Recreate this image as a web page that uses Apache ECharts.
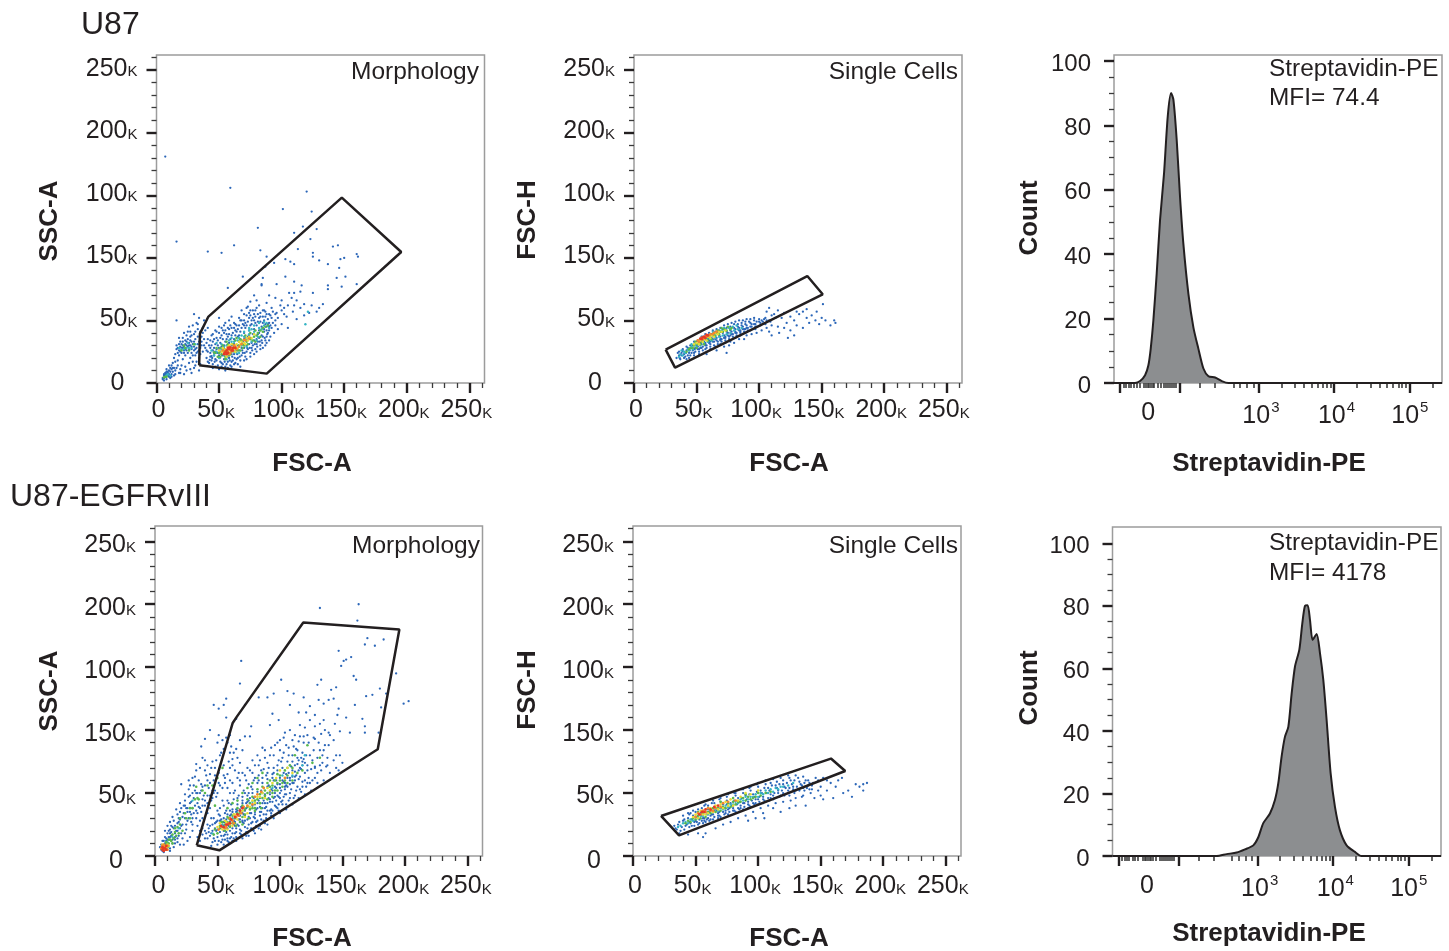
<!DOCTYPE html>
<html><head><meta charset="utf-8">
<style>html,body{margin:0;padding:0;background:#fff}#c{width:1449px;height:951px}</style>
<script src="https://cdn.jsdelivr.net/npm/echarts@6/dist/echarts.min.js"></script>
</head><body><div id="c"></div>
<script>
// ---------- tick labels ----------
const scatterXTicks=[0,50,100,150,200,250];
const scatterXLabels=["0","50K","100K","150K","200K","250K"];
const scatterYTicks=[0,50,100,150,200,250];
const scatterYLabels=["0","50K","150K","100K","200K","250K"];
const scatterMinorTicks=[10,20,30,40,60,70,80,90,110,120,130,140,160,170,180,190,210,220,230,240,260];
const histYTicks=[0,20,40,60,80,100];
const histYMinorTicks=[5,10,15,25,30,35,45,50,55,65,70,75,85,90,95];
const histXLabelTicks=[1.54,3.03,4.03,5];
const histXLabels=["0","3","4","5"];
const histXMajorTicks=[1.166,1.96,3,4,5];
const histXMinorTicks=[1.21,1.245,1.276,1.307,1.351,1.384,1.421,1.483,1.506,1.527,1.55,1.572,1.594,1.616,1.66,1.705,1.74,1.766,1.792,1.819,1.845,1.871,1.898,2.225,2.424,2.666,2.755,2.844,2.93,3.3,3.48,3.6,3.7,3.78,3.85,3.9,3.95,4.3,4.48,4.6,4.7,4.78,4.85,4.9,4.95,5.3];

// ---------- histograms ----------
const u87HistX=[1.086,1.364,1.431,1.497,1.541,1.572,1.607,1.651,1.695,1.748,1.797,1.841,1.872,1.916,1.96,2.004,2.071,2.137,2.203,2.269,2.336,2.424,2.512,2.6,5.426];
const u87HistCount=[0,0,0.6,2.4,5.5,10.7,19.5,34,50.6,65.1,82.8,90.1,88,75.4,57.7,43.2,27.6,17.2,10.6,4.5,2.1,1.7,0.6,0,0];
const egfrHistX=[1.086,2.462,2.594,2.726,2.836,2.946,3.012,3.078,3.166,3.232,3.276,3.32,3.364,3.409,3.453,3.497,3.554,3.594,3.629,3.664,3.695,3.73,3.783,3.827,3.871,3.915,3.968,4.025,4.091,4.179,4.289,4.377,5.426];
const egfrHistCount=[0,0,0.6,1.1,2.1,3.4,6,10.5,13.6,17.9,23.2,31.8,38.1,41.3,52,60.6,65.9,74.5,80,80.2,75.5,69.1,71,64.9,56.3,43.5,26.4,15.7,8.2,3.4,1.3,0,0];

// ---------- gates ----------
const u87MorphGate=[[34.1,14.1],[34.7,39.5],[41.3,52.8],[148.1,148.2],[195.6,104.7],[88.1,7.5],[34.1,14.1]];
const u87SingleGate=[[25.3,26.7],[32.8,12.3],[150.8,70.9],[138.5,85.5],[25.3,26.7]];
const egfrMorphGate=[[33.4,8.5],[51.5,4.5],[178.3,84.8],[195.6,179.9],[118.7,185.5],[65.4,110.5],[62.2,105.7],[33.4,8.5]];
const egfrSingleGate=[[22.4,31.8],[36.8,16.4],[169.6,67.5],[158.2,77.4],[22.4,31.8]];

// ---------- U87 morphology events, by density colour ----------
const u87MorphBlue=[[7,181],[59,156],[120,153],[101,139],[124,137],[81,124],[117,125],[110,120],[128,123],[62,110],[16,113],[41,105],[52,104],[83,106],[123,115],[88,101],[141,109],[145,110],[113,107],[125,104],[160,103],[161,101],[150,100],[147,99],[103,99],[94,96],[107,97],[110,95],[130,98],[137,95],[146,92],[87,93],[125,101],[69,85],[151,85],[144,84],[103,85],[85,84],[84,79],[96,79],[116,78],[137,78],[137,75],[148,77],[160,79],[57,76],[84,78],[110,81],
[90,70],[95,68],[100,66],[88,64],[106,72],[110,72],[115,73],[125,72],[108,68],[112,66],[118,63],[124,62],[130,60],[122,56],[128,57],[133,63],[102,60],[99,62],[92,60],[96,56],[104,53],[110,62],[86,58],[82,62],[80,66],[78,70],[75,65],[73,61],[90,55],[95,50],[100,47],[105,44],[112,51],[118,54],
[20,28],[22,26],[24,30],[26,27],[28,24],[30,29],[18,31],[21,33],[25,35],[28,33],[31,35],[33,31],[35,28],[37,25],[23,22],[27,20],[31,22],[34,20],[16,27],[19,25],[24,38],[27,41],[30,39],[33,43],[36,37],[29,46],[32,48],[37,44],[26,45],[34,52],[38,50],[30,55],[18,36],[22,40],[36,33],[38,30],[33,25],[14,20],[17,18],[12,14],[16,12],[20,14],[24,10],[28,8],[30,12],[26,16],[10,10],[13,9],[9,6],[18,8],[22,7],[35,15],[32,17],[16,50],
[5,3],[6,4],[7,5],[8,7],[7,8],[9,9],[10,5],[12,7],[14,6],[11,4],[6,2],[8,3],
[40,20],[43,24],[46,28],[42,30],[45,33],[48,36],[50,40],[44,38],[41,44],[47,42],[52,44],[55,48],[58,50],[50,52],[60,53],[63,47],[66,52],[70,55],[72,60],[68,58],[75,58],[78,55],[80,60],[85,58],[88,55],[92,52],[90,48],[86,50],[82,52],[78,50],[74,52],[70,50],[66,46],[62,44],[58,43],[54,40],[56,35],[60,38],[64,41],[68,44],[72,46],[76,47],[80,46],[84,45],[88,45],[86,41],[82,42],[78,43],[74,42],[70,40],[66,38],[62,35],[58,32],[54,30],[50,28],[46,22],[48,18],[52,16],[56,15],[60,17],[64,19],[68,22],[72,25],[76,28],[80,31],[84,34],[88,37],[82,36],[78,34],[74,31],[70,28],[66,26],[62,23],[58,20],[54,19],[50,22],[44,18],[42,16],[65,30],[69,33],[73,37],[77,39],[81,39],[85,48],[75,36],[90,42],[67,35],[71,36],[63,28],[59,27],[55,25],[51,25],[47,25],[60,30],[87,30],[92,44],[95,46],
[41,17],[43,21],[45,15],[47,19],[49,14],[51,17],[53,15],[55,13],[57,17],[59,14],[61,18],[63,16],[65,20],[67,18],[69,24],[71,21],[73,27],[75,24],[77,30],[79,27],[81,33],[83,30],[85,37],[87,34],[89,40],[91,37],[41,25],[43,28],[45,26],[47,31],[49,30],[51,32],[53,35],[55,33],[57,37],[59,35],[61,40],[63,38],[65,43],[67,41],[69,47],[71,44],[73,49],[75,46],[77,52],[79,48],[81,55],[83,49],[85,53],[87,47],[89,51],[91,46],[44,21.5],[46,24],[48,27],[50,26],[52,29],[54,27.5],[56,24.5],[58,29.5],[60,23],[62,31],[64,26],[66,33],[68,28],[70,35],[72,30],[74,38],[76,32],[78,39],[80,35],[82,40],[84,38],[86,43],[88,42],[90,45],[42.5,18.5],[44.5,20],[46.5,17],[48.5,24],[50.5,20],[52.5,22],[54.5,17],[56.5,21],[58.5,18],[60.5,21],[62.5,20],[64.5,23],[66.5,21],[68.5,26],[70.5,24],[72.5,28],[74.5,28],[76.5,26],[78.5,31],[80.5,29],[82.5,33],[84.5,32],[86.5,36],[88.5,39],[51,36],[55,42],[59,46],[63,42],[67,50],[71,48],[75,54],[79,58],[83,56],[87,53],
[19,29],[21,28],[23,31],[25,29],[27,30],[29,31],[22,24],[26,32],[30,26],[32,28],[34,33],[24,26],[28,27],[20,31],[17,24],[15,23],[35,36],[31,41],[27,37],[23,34],
[6,6],[7,6.5],[8,9],[9,8],[10,7],[11,9],[12,11],[13,12],[15,10],[17,14],[19,11],[5,4],[6,7],
[16,30],[17,28],[18,26],[19,33],[20,24],[21,30],[22,29],[23,27],[24,33],[25,24],[26,30],[27,34],[28,29],[29,22],[30,33],[31,27],[32,24],[33,37],[34,26],[35,23],[36,30],[37,40],[38,35],[39,28],[40,32],[39,42],[35,41],[33,47],[28,38],[25,41],[21,36],[18,22],[15,17],[13,16],[11,12],[14,12],[19,8],[23,13],[27,11],[31,14],[34,10],[10,14],[8,11],[15,7],[12,5],[21,19],[29,17],[40,26],[41,35],[43,34],[44,30],[45,39],[46,35],[48,41],[49,34],[50,45],[52,38],[53,42],[54,46],[56,39],[57,44],[58,39],[60,44],[62,48],[64,46],[65,37],[68,50],[70,46],[72,54],[74,56],[76,50],[77,58],[79,53],[81,49],[83,53],[85,44],[87,57],[89,47],[91,54],[93,48],[95,55],[97,52],[93,57],[45,12],[50,11],[55,10],[60,13],[65,15],[70,18],[75,21],[80,25],[85,28],[90,34],[94,40],[97,43],[72,19],[78,23],[83,27],[88,32],[67,13],[62,15],[57,12],[52,13],[47,13],[100,58],[105,62],[109,57],[115,60],[102,55]];
const u87MorphTeal=[[48,25],[52,27],[56,30],[60,33],[65,34],[70,37],[74,39],[78,41],[82,44],[86,46],[76,33],[68,30],[62,25],[58,24],[54,22],[24,28],[20,27],[8,6],[84,43],[72,35],[119,47],[121,57],
[46,22],[50,20],[54,29],[58,34],[62,33],[66,36],[70,41],[74,44],[78,46],[82,48],[86,49],[64,24],[72,29],[44,26],[52,31],[68,38],[76,43],[80,34],[22,27],[26,28],[9,7],[11,6],[28,28],[18,28],[31,31],[25,32],[60,36],[48,32],[74,42],[88,48],[90,44],[81,37],[66,24],[56,19]];
const u87MorphGreen=[[50,24],[54,26],[57,27],[60,25],[63,27],[66,30],[69,31],[72,33],[75,35],[78,37],[80,38],[58,22],[62,29],[68,34],[52,23],[7,5],[83,42],[23,28],[47,24],[55,21],
[46,24.5],[49,21],[51,28],[53,30],[55,19],[57,31],[59,23],[61,31],[63,34],[65,26],[67,35],[69,28],[71,38],[73,31],[75,40],[77,34],[79,42],[81,40],[85,44],[87,45],[48,28],[56,33],[64,36],[70,30],[6,4.5],[8,5],[22,30],[26,26],[30,31],[20,26],[85,41],[89,46],[83,37],[79,33],[51,21],[67,26]];
const u87MorphYellow=[[52,25],[55,23],[59,26],[62,27],[65,28],[67,31],[70,32],[73,34],[76,36],[57,29],[50,26],[53,28],[55,27],[58,30],[60,31],[63,25],[64,31],[66,33],[68,33],[71,31],[72,36],[74,37],[78,39],[56,21]];
const u87MorphOrange=[[54,24],[57,25],[60,27],[63,29],[66,29],[71,34],[58,23],[53,26],[55,25],[58,28.5],[59,24],[61,25.5],[62,30],[64,27],[68,31],[70,34.5],[74,35.5]];
const u87MorphRed=[[56,26],[58,27],[60,26],[54,23],[61,28],[56,23],[55,24.5],[57,24],[59,28.5],[61,26],[57,28],[63,28]];

// ---------- U87 single cells ----------
const u87SingleBlue=[[34,20],[36,22],[37,19],[38,24],[40,23],[41,21],[42,26],[44,24],[45,22],[46,28],[47,26],[48,24],[50,30],[51,27],[52,25],[53,32],[54,28],[55,26],[56,33],[57,30],[58,28],[59,35],[60,32],[61,29],[62,36],[63,33],[64,30],[65,37],[66,34],[67,31],[68,38],[69,35],[70,33],[71,40],[72,36],[73,34],[74,41],[75,38],[76,35],[77,42],[78,39],[79,37],[80,44],[81,41],[82,38],[83,45],[84,42],[85,40],[86,46],[87,43],[88,41],[89,47],[90,44],[91,42],[93,48],[94,45],[95,43],[96,50],[97,47],[98,45],[100,51],[101,48],[103,49],[105,52],[108,50],[110,54],
[58,23],[66,26],[72,29],[76,30],[80,32],[84,35],[90,38],[94,39],[98,40],[102,42],[106,44],[110,46],[88,35],[74,24],
[106,57],[108,60],[112,55],[115,58],[118,52],[120,56],[122,48],[125,53],[128,50],[130,46],[132,55],[135,57],[138,52],[140,48],[125,42],[115,45],[108,41],[120,44],[116,40],[145,50],[148,47],[150,52],[153,50],[157,46],[142,54],[135,44],[128,38],[123,36],[110,38],[151,63],[160,50],[161,48],[146,57],[138,59],[130,57],
[35,24],[36.5,20],[38,22],[39,25.5],[40,20],[41.5,24],[43,22],[43,28],[44.5,26],[46,24],[47,30],[48.5,27],[49,25],[50,33],[51,29],[52,27],[53,35],[54,31],[55,29],[56,36],[57,32],[58,30],[59,38],[60,34],[61,31],[62,39],[63,35],[64,33],[65,41],[66,36],[67,33],[68,42],[69,37],[70,35],[71,43],[72,38],[73,36],[74,44],[75,40],[76,37],[77,45],[78,41],[79,39],[80,47],[81,43],[82,40],[83,47],[84,44],[85,42],[86,48],[87,45],[88,43],[89,49],[90,46],[91,44],[92,49],[94,47],[96,47],[98,49],[100,49],[102,50],[104,51],[106,50],[57,27],[61,27],[65,29],[69,31],[73,32],[77,33],[81,36],[85,38],[89,40],[93,42],[97,43],[44,20],[48,22],[52,23],[42,19],
[36,25],[39,27],[42,29],[45,30],[48,33],[51,34],[54,37],[57,39],[60,40],[63,42],[66,43],[69,44],[72,46],[75,47],[78,48],[81,49],[84,50],[87,50],[90,51],[93,51],[96,52],[49,28],[53,28],[57,31],[61,33],[65,35],[69,34],[73,37],[77,38],[81,40],[85,41],[89,43],[93,45],[97,45],[101,46],[105,47],[109,49],[113,52]];
const u87SingleTeal=[[37,23],[40,25],[43,27],[46,29],[49,31],[52,33],[55,34],[58,36],[61,38],[64,39],[67,41],[70,42],[73,43],[76,44],[79,45],[82,46],[36,21],[39,22],[41,24],[44,26],[47,27],[50,29],[53,30],[56,32],[59,33],[62,34],[65,36],[68,37],[71,38],[74,39],[77,40],[80,42],[83,43],[86,44],[38,26],[46,31],[55,37],[63,41],[72,44]];
const u87SingleGreen=[[42,25],[45,28],[48,30],[51,31],[54,33],[57,35],[60,36],[63,38],[66,40],[69,41],[72,43],[75,45],[78,44],[44,27],[47,28],[50,28],[53,31],[56,31],[59,34],[62,35],[65,38],[68,39],[71,41],[74,42],[77,43],[49,33],[58,38],[67,42],[70,44]];
const u87SingleYellow=[[50,32],[53,34],[56,35],[59,37],[62,38],[65,40],[68,41],[52,31],[55,33],[58,34],[61,36],[64,37],[67,39],[70,41],[48,31],[73,42]];
const u87SingleOrange=[[52,33],[55,35],[58,37],[61,39],[64,40],[51,34],[54,36],[57,37],[60,38],[63,39],[66,41]];
const u87SingleRed=[[54,35],[57,36],[59,38],[53,35.5],[56,37],[58,38.5],[55,36.5]];

// ---------- U87-EGFRvIII morphology ----------
const egfrMorphBlue=[[132,197],[163,200],[162,187],[170,173],[183,172],[168,168],[176,167],[147,163],[157,158],[153,156],[151,155],[149,151],[69,155],[193,145],[159,143],[161,140],[133,140],[130,136],[101,140],[68,137],[180,133],[145,134],[141,132],[106,131],[111,129],[95,129],[83,126],[90,126],[169,127],[174,128],[185,129],[203,123],[199,121],[57,125],[47,120],[51,117],[55,120],[181,118],[147,117],[160,120],[72,120],[124,119],[119,126],[131,124],[135,121],[139,124],[143,125],[108,120],[115,114],[121,114],[94,113],[57,110],[65,109],[99,108],[153,110],[166,109],[135,108],[146,112],[168,103],[179,98],[168,98],[156,98],[148,99],[139,98],[145,80],[137,71],[147,68],[128,71],[44,100],[51,96],[40,93],[77,103],[92,104],[72,95],[76,95],[37,87],[33,73],[21,57],[27,60],
[35,60],[30,62],[38,55],[42,60],[44,65],[48,70],[46,75],[52,80],[55,85],[50,90],[58,90],[60,82],[42,72],[38,78],[33,68],[30,50],[27,47],[24,44],[21,38],[18,33],[15,28],[13,24],[26,35],[30,38],[34,42],[38,45],[42,48],[46,52],[37,35],[33,30],[29,27],[25,25],[20,22],[16,18],[12,15],[36,28],[40,40],[31,56],[27,53],[45,44],[49,47],[22,31],[19,27],[11,20],[44,38],[47,60],[51,66],[55,72],[40,68],[56,62],[60,70],[62,77],[65,85],[68,92],[54,92],[60,96],
[5,5],[6,8],[7,3],[8,10],[9,6],[10,13],[11,8],[12,4],[13,16],[14,10],[15,7],[16,13],[17,20],[18,11],[19,16],[20,9],[22,14],[24,18],[26,12],[8,15],[6,12],[10,18],[12,21],[4,7],[28,15],[30,20],[25,21],[23,9],
[36,12],[38,17],[40,20],[42,14],[44,24],[45,18],[46,11],[48,22],[49,27],[50,15],[51,33],[52,19],[53,24],[54,13],[55,30],[56,17],[57,36],[58,22],[59,11],[60,27],[61,41],[62,18],[63,33],[64,24],[65,15],[66,46],[67,29],[68,37],[69,20],[70,34],[71,26],[72,50],[73,42],[74,22],[75,31],[76,38],[77,55],[78,27],[79,46],[80,35],[81,24],[82,42],[83,60],[84,32],[85,51],[86,38],[87,28],[88,47],[89,64],[90,36],[91,56],[92,43],[93,32],[94,52],[95,70],[96,40],[97,60],[98,48],[99,36],[100,57],[101,75],[102,44],[103,66],[104,53],[105,41],[106,62],[107,80],[108,50],[109,71],[110,58],[111,46],[112,67],[113,85],[114,55],[115,76],[116,63],[117,51],[118,72],[119,90],[120,60],[121,80],[122,68],[124,58],[126,76],[128,93],[130,66],[132,84],[134,74],[136,88],[138,78],[122,96],[128,103],[133,97],[116,95],[110,92],[105,88],[100,84],[95,80],[90,74],[85,68],[80,62],[75,50],[70,44],[65,37],[60,32],[55,24],[50,28],[47,30],[52,38],[58,44],[63,50],[68,56],[73,60],[78,66],[83,72],[88,78],[93,86],[98,90],[103,94],[65,22],[70,28],[75,25],[80,30],[85,35],[90,42],[95,46],[100,50],[105,56],[110,63],[115,68],[120,74],[72,32],[77,34],[82,38],[87,44],[92,49],[97,54],[102,60],[107,66],[112,72],[117,78],[60,20],[63,25],[67,24],[56,27],[53,29],[49,20],[46,25],[43,19],[55,16],[58,14],[62,12],[68,15],[74,18],[79,20],[84,24],[89,30],[94,36],[99,41],
[40,14],[41,18],[43,22],[44,16],[46,20],[47,14],[48,26],[50,21],[51,12],[52,28],[53,16],[54,23],[55,20],[56,13],[57,29],[58,17],[59,24],[60,14],[61,33],[62,22],[63,28],[64,18],[65,35],[66,25],[67,32],[68,21],[69,39],[70,27],[71,33],[72,23],[73,38],[74,29],[75,44],[76,34],[77,26],[78,40],[79,31],[80,47],[81,37],[82,28],[83,44],[84,35],[85,52],[86,42],[87,33],[88,49],[89,39],[90,55],[91,46],[92,36],[93,53],[94,43],[95,60],[96,50],[97,39],[98,57],[99,47],[100,62],[101,52],[102,41],[103,59],[104,49],[105,65],[106,55],[107,44],[108,62],[109,53],[110,68],[111,58],[112,48],[113,64],[114,73],[115,61],[116,53],[117,69],[118,59],[119,77],[120,66],[121,55],[122,72],[123,62],[124,80],[125,69],[126,60],[127,84],[128,70],[130,78],[132,72],[134,80],[62,37],[66,41],[70,47],[74,48],[78,53],[82,58],[86,62],[90,66],[94,62],[98,72],[102,78],[106,75],[110,80],[114,84],[118,82],[52,32],[56,34],[60,36],[64,30],[68,32],[72,36],[76,46],[80,41],[84,46],[88,38],[92,45],[96,55],[100,46],[104,58],[108,57],[112,60],[116,70],[57,19],[61,15],[65,19],[69,17],[73,19],[77,22],[81,27],[85,29],[89,33],[93,37],[97,44],[101,43],[105,49],[45,30],[42,25],[38,22],[36,20],[34,15],
[15,22],[18,26],[20,29],[23,34],[26,38],[28,42],[31,46],[34,50],[37,52],[14,31],[17,37],[20,42],[24,49],[28,56],[32,63],[36,70],[40,76],[29,33],[33,36],[10,24],[8,20],[12,27],[9,12],[11,15],[13,19],[16,10],[18,14],[21,18],[5,9],[7,12],[9,14],[6,4],[10,10],[12,6],[14,13],[16,15],
[20,35],[24,30],[28,35],[32,40],[36,38],[40,44],[44,48],[48,52],[52,56],[56,58],[60,60],[64,68],[68,74],[30,30],[34,34],[38,40],[42,42],[46,46],[50,50],[54,54],[58,65],[62,72],[66,78],[70,84],[25,38],[29,43],[33,50],[37,57],[41,64],[45,70],[49,76],[53,82],[57,94],[61,87],[22,25],[26,28],[30,25],[34,24],[38,30],[42,34],[16,24],[19,30],[23,40],[27,30],[31,34],[35,39],[39,48],[43,54],[47,50],[51,58],[55,64],[59,75],[63,82],[67,66],[48,64],[44,58],[40,56],[36,50],[32,52],[28,48],[24,40],[12,18],[14,23],[18,20],[21,24],
[55,40],[59,42],[63,45],[67,48],[71,52],[75,57],[79,60],[83,64],[87,69],[91,70],[95,66],[99,76],[103,82],[107,86],[111,87],[115,91],[119,95],[123,90],[127,94],[131,90],[135,84],[139,88],[143,92],[60,50],[64,52],[68,60],[72,64],[76,68],[80,72],[84,76],[88,84],[92,80],[96,88],[100,92],[104,98],[108,100],[112,96],[116,104],[120,102],[124,108],[128,112],[132,105],[136,100],[140,96],[144,105],[50,36],[54,44],[58,54],[62,58],[66,62],[70,66],[74,70],[78,76],[82,80],[86,86],
[45,8],[50,9],[55,9],[60,10],[65,12],[70,14],[75,16],[80,18],[85,21],[90,25],[95,30],[100,34],[105,37],[110,41],[115,46],[120,49],[125,52],[130,58],[135,60],[140,66],[145,70],[150,74],[128,62],[133,68],[138,72],[143,76],[148,80],[122,58],[118,55],[113,52],[108,46],[103,47],[98,38],[93,34],[88,26],[83,22],[78,21],[73,16],[68,18],[63,14],[58,12],[53,11],[48,12],
[55,27],[58,33],[62,35],[66,36],[70,42],[74,43],[78,50],[82,51],[86,58],[90,61],[94,65],[98,68],[102,70],[106,70],[110,75],[114,78],[118,75],[60,24],[64,27],[68,29],[72,28],[76,30],[80,33],[84,39],[88,42],[92,51],[96,47],[100,54],[104,55],[108,60],[112,63]];
const egfrMorphTeal=[[46,18],[54,25],[62,30],[70,36],[78,43],[86,50],[94,54],[102,64],[110,64],[118,72],[19,22],[14,15],[10,11],[30,44],[120,80]];
const egfrMorphGreen=[[7,7],[9,9],[11,10],[13,12],[15,14],[17,16],[19,18],[8,5],[10,7],[12,13],[14,17],[6,6],[48,21],[52,24],[56,25],[60,29],[64,30],[68,34],[72,37],[76,42],[80,44],[84,49],[88,52],[92,55],[96,60],[100,64],[104,68],[50,18],[58,31],[62,26],[66,38],[70,31],[74,45],[78,38],[82,53],[86,46],[90,58],[94,50],[98,65],[102,58],[108,72],[112,80],[122,88],[40,50],[35,45],[30,38],[28,30],[22,20],[48,40],[33,55],
[14,10],[16,19],[18,23],[9,11],[11,13],[20,25],[25,30],[32,45],[38,52],[46,56],[52,22],[54,27],[56,20],[58,27],[60,23],[62,32],[64,26],[66,34],[68,27],[70,40],[72,33],[74,39],[76,37],[78,47],[80,38],[82,45],[84,42],[86,55],[88,48],[90,50],[92,60],[94,56],[96,52],[98,58],[100,60],[104,60],[106,64],[110,70],[47,17],[53,27],[59,30],
[58,38],[62,42],[66,44],[70,50],[74,54],[78,58],[82,62],[86,66],[90,45],[94,47],[98,52],[102,55],[106,58],[110,60],[114,66],[118,68],[65,24],[70,25],[75,30],[80,36],[85,38],[24,34],[28,38],[34,46],[42,56],[50,62],[54,70],[20,30],[16,22],[126,74],[132,78]];
const egfrMorphYellow=[[7,5],[9,7],[11,8],[6,9],[50,23],[54,21],[57,27],[60,25],[63,33],[66,29],[70,36],[74,34],[78,44],[82,47],[86,50],[90,54],[97,62],[106,70],[88,46],[52,26],[56,28],[58,21],[62,24],[64,33],[68,36],[72,31],[76,39],[80,42],[84,47],[92,52],[94,58],[100,68],[110,66],[8,8],[10,9]];
const egfrMorphOrange=[[5,6],[8,7],[10,5],[7,9],[53,23],[56,22],[59,26],[62,28],[65,31],[69,34],[74,40],[80,47],[85,51],[104,62],[51,21],[57,23],[60,30],[63,26],[67,32],[71,39],[78,41],[82,49],[87,54],[10,8],[6,8]];
const egfrMorphRed=[[6,5],[8,6],[7,4],[9,5],[55,23],[58,25],[61,29],[66,33],[70,38],[53,24],[57,25],[60,26],[64,31],[68,36],[7,6],[9,8],[6,7]];

// ---------- U87-EGFRvIII single cells ----------
const egfrSingleBlue=[[34,22],[36,25],[38,20],[40,28],[42,24],[44,30],[46,26],[48,32],[50,28],[52,25],[54,34],[56,30],[58,27],[60,37],[62,32],[64,29],[66,38],[68,34],[70,31],[72,41],[74,36],[76,33],[78,42],[80,38],[82,35],[84,46],[86,40],[88,37],[90,48],[92,43],[94,39],[96,49],[98,45],[100,41],[102,52],[104,47],[106,43],[108,54],[110,49],[112,45],[114,56],[116,52],[118,48],[120,57],[122,54],[124,50],[126,60],[128,55],[130,52],[132,62],[134,57],[136,54],[138,60],[140,56],[144,58],[148,60],[152,62],[70,43],[75,44],[82,48],[88,50],[94,52],[100,55],[106,57],[110,58],[115,59],[120,60],[125,62],[55,38],[60,40],[65,42],[50,35],[45,33],
[56,15],[44,17],[58,18],[66,22],[72,25],[78,27],[84,30],[90,32],[96,35],[102,38],[108,40],[114,42],[120,43],[126,44],[130,46],[136,48],[142,50],[138,40],[130,40],[118,35],[112,38],[104,34],[98,30],[92,28],[52,18],
[140,60],[146,62],[150,55],[155,52],[158,58],[162,55],[164,60],[168,50],[172,52],[175,47],[178,57],[181,55],[184,52],[184,57],[187,58],[160,46],[152,45],[150,48],[145,46],[155,60],[148,52],[143,53],[167,62],[135,47],[125,38],[105,30],
[33,24],[35,21],[37,27],[39,23],[41,29],[43,25],[45,27],[47,29],[49,27],[51,31],[53,29],[55,32],[57,30],[59,33],[61,35],[63,33],[65,36],[67,36],[69,35],[71,38],[73,38],[75,41],[77,38],[79,40],[81,44],[83,41],[85,43],[87,46],[89,42],[91,45],[93,49],[95,44],[97,47],[99,51],[101,47],[103,50],[105,54],[107,50],[109,52],[111,56],[113,50],[115,54],[117,57],[119,52],[121,55],[123,58],[125,54],[127,57],[129,60],[131,55],[133,59],[135,56],[137,58],[139,54],[141,58],[143,56],[57,40],[63,42],[69,45],[75,47],[81,50],[87,53],[93,54],[99,57],[48,36],[44,34],[40,32],[60,30],[64,33],[68,32],[72,35],[76,37],[80,40],[84,38],[88,42],[92,41],[96,42],[100,45],[104,45],[108,46],[112,48],[116,50],[120,50],[124,52],[128,53],[47,24],[51,27],[55,28],[59,29],
[37,18],[41,21],[45,23],[49,24],[53,26],[57,28],[61,28],[65,31],[69,32],[73,33],[77,35],[81,36],[85,37],[89,39],[93,40],[97,41],[101,43],[105,44],[109,44],[113,46],[117,47],[121,48],[125,48],[129,50],[133,52],[137,52],[141,53],[46,34],[52,37],[58,41],[64,44],[70,46],[76,49],[82,50],[88,53],[94,55],[100,58],[106,60],[112,61],[118,62],[124,64],[130,64],[136,63],[56,26],[62,29],[68,30],[74,34],[80,36],[86,38],[92,38],[98,42],[104,42],[110,46]];
const egfrSingleTeal=[[38,24],[42,27],[46,29],[50,31],[54,32],[58,35],[62,36],[66,37],[70,38],[74,40],[78,41],[82,43],[86,45],[90,47],[94,47],[98,49],[102,50],[106,52],[110,53],[114,54],[118,55],[36,23],[40,26],[44,26],[48,28],[52,30],[56,32],[60,33],[64,35],[68,36],[72,37],[76,39],[80,41],[84,42],[88,44],[92,45],[96,47],[100,47],[104,49],[108,50],[112,51],[116,53],[120,55],[124,56],[128,58]];
const egfrSingleGreen=[[44,28],[48,30],[52,32],[56,34],[60,35],[64,38],[68,38],[72,39],[76,42],[80,43],[84,43],[88,46],[92,47],[96,46],[100,50],[42,26],[46,27],[50,29],[54,30],[58,31],[62,34],[66,35],[70,36],[74,38],[78,39],[82,41],[86,43],[90,44],[94,45],[98,47],[102,48],[106,50],[110,51],[60,38],[70,43],[80,46],[90,49],[52,35]];
const egfrSingleYellow=[[50,33],[54,36],[58,33],[62,38],[66,40],[70,41],[74,43],[78,45],[84,44],[90,50],[48,31],[52,30],[56,33],[60,34],[64,35],[68,37],[72,38],[76,40],[80,40],[86,47],[94,49],[100,52]];
const egfrSingleOrange=[[52,34],[56,36],[60,38],[64,36],[72,42],[50,31],[54,33],[58,35],[62,36],[66,38],[70,39],[76,43],[82,44]];
const egfrSingleRed=[[55,35],[58,37],[68,40],[53,33],[57,35],[62,37],[65,39]];

// ---------- styling ----------
const INK='#231f20', FONT='"Liberation Sans",Arial,sans-serif';
const DOT_COLORS=['#2b66b8','#35b4c4','#58b84e','#e6dc35','#f28a2c','#e63a26'];
const DOT_SIZES=[2.3,2.4,2.6,2.6,2.8,2.8];
const SCATTER_MAX=262.144, HIST_MIN=1.086, HIST_MAX=5.426;

const grids=[],xAxes=[],yAxes=[],series=[];
const richK={n:{fontSize:25,fontFamily:FONT,color:INK,lineHeight:26},
  z:{fontSize:25,fontFamily:FONT,color:INK,lineHeight:26,padding:[3,13,0,0]},
  x0:{fontSize:25,fontFamily:FONT,color:INK,lineHeight:26,padding:[0,0,0,4]},
  k:{fontSize:15,fontFamily:FONT,color:INK,lineHeight:22,verticalAlign:'bottom',padding:[0,0,2,0]},
  kx:{fontSize:15,fontFamily:FONT,color:INK,lineHeight:22,verticalAlign:'bottom',padding:[0,6,2,0]},
  s:{fontSize:15,fontFamily:FONT,color:INK,lineHeight:32,verticalAlign:'top',padding:[0,0,0,1]}};
function kLabel(s,isY){
  if(s.endsWith('K')) return '{n|'+s.slice(0,-1)+'}{'+(isY?'k':'kx')+'|K}';
  return isY? '{z|'+s+'}' : '{x0|'+s+'}';
}
function vPad(dy){return dy>=0?[dy*2,0,0,0]:[0,0,-dy*2,0];}
function axisPair(list,grid,pos,min,max,major,minor,label,majorLen,minorLen,minorWidth){
  const base={type:'value',gridIndex:grid,position:pos,min,max,splitLine:{show:false},axisLine:{show:false,onZero:false}};
  list.push(Object.assign({},base,{axisTick:{show:true,length:majorLen,customValues:major,lineStyle:{color:INK,width:2.4}},axisLabel:label}));
  list.push(Object.assign({},base,{axisTick:{show:true,length:minorLen,customValues:minor,lineStyle:{color:'#3a3a3a',width:minorWidth}},axisLabel:{show:false}}));
}
function addGrid(left,top,width,height){
  grids.push({left,top,width,height,show:true,backgroundColor:'#fff',borderColor:'#9c9c9c',borderWidth:1.5,containLabel:false});
  return grids.length-1;
}
function scatterPanel(left,top,width,height,sets,gate,xMargin,yDy,xShift){
  const g=addGrid(left,top,width,height);
  axisPair(xAxes,g,'bottom',0,SCATTER_MAX,scatterXTicks,scatterMinorTicks,
    {show:true,margin:xMargin,customValues:scatterXTicks,rich:richK,padding:[0,0,0,xShift*2],formatter:v=>kLabel(scatterXLabels[scatterXTicks.indexOf(v)],false)},10,5,1.3);
  axisPair(yAxes,g,'left',0,SCATTER_MAX,scatterYTicks,scatterMinorTicks,
    {show:true,margin:19,customValues:scatterYTicks,rich:richK,padding:vPad(yDy),formatter:v=>kLabel(scatterYLabels[scatterYTicks.indexOf(v)],true)},10,5,1.3);
  sets.forEach((data,i)=>{
    series.push({type:'scatter',xAxisIndex:g*2,yAxisIndex:g*2,data,symbol:'circle',symbolSize:DOT_SIZES[i],silent:true,z:3+i,
      itemStyle:{color:DOT_COLORS[i],opacity:1},animation:false});});
  series.push({type:'line',xAxisIndex:g*2,yAxisIndex:g*2,data:gate,symbol:'none',silent:true,z:12,smooth:false,
    lineStyle:{color:INK,width:2.5},animation:false});
}
function histPanel(left,top,width,height,yMax,xs,counts,yDy){
  const g=addGrid(left,top,width,height);
  const lbl=v=>{const s=histXLabels[histXLabelTicks.indexOf(v)];return s==='0'?'{n|0}':'{n|10}{s|'+s+'}';};
  axisPair(xAxes,g,'bottom',HIST_MIN,HIST_MAX,histXMajorTicks,histXMinorTicks,
    {show:true,margin:17,customValues:histXLabelTicks,rich:richK,formatter:lbl},10,5,1.6);
  axisPair(yAxes,g,'left',0,yMax,histYTicks,histYMinorTicks,
    {show:true,margin:23,customValues:histYTicks,rich:{t:{fontSize:24,fontFamily:FONT,color:INK,lineHeight:26}},padding:vPad(yDy),formatter:v=>'{t|'+v+'}'},10,5,1.3);
  series.push({type:'line',xAxisIndex:g*2,yAxisIndex:g*2,data:xs.map((x,i)=>[x,counts[i]]),symbol:'none',smooth:0.25,silent:true,z:5,
    lineStyle:{color:INK,width:2},areaStyle:{color:'#8c8e90',opacity:1},animation:false});
}
scatterPanel(156.5,55,328,328,[u87MorphBlue,u87MorphTeal,u87MorphGreen,u87MorphYellow,u87MorphOrange,u87MorphRed],u87MorphGate,14,-1.5,0);
scatterPanel(634,55,328,328,[u87SingleBlue,u87SingleTeal,u87SingleGreen,u87SingleYellow,u87SingleOrange,u87SingleRed],u87SingleGate,14,-1.5,0);
histPanel(1114,55,328,328,101.9,u87HistX,u87HistCount,3);
scatterPanel(155,526,327.5,330,[egfrMorphBlue,egfrMorphTeal,egfrMorphGreen,egfrMorphYellow,egfrMorphOrange,egfrMorphRed],egfrMorphGate,17,3.5,1.5);
scatterPanel(633,526,328,330,[egfrSingleBlue,egfrSingleTeal,egfrSingleGreen,egfrSingleYellow,egfrSingleOrange,egfrSingleRed],egfrSingleGate,17,3.5,0);
histPanel(1112.5,527,328.5,329,105.2,egfrHistX,egfrHistCount,3);

function txt(text,x,y,size,opt){opt=opt||{};
  return {type:'text',x,y,rotation:opt.rot||0,z:30,silent:true,
    style:{text,x:0,y:0,fill:INK,font:(opt.bold?'bold ':'')+size+'px '+FONT,textAlign:opt.align||'center',textVerticalAlign:'middle'}};
}
const R=Math.PI/2;
const graphic=[
 txt('U87',81,25,32,{align:'left'}),txt('U87-EGFRvIII',10,497,32,{align:'left'}),
 txt('FSC-A',312,464,26,{bold:1}),txt('FSC-A',789,464,26,{bold:1}),txt('Streptavidin-PE',1269,464,26,{bold:1}),
 txt('FSC-A',312,939,26,{bold:1}),txt('FSC-A',789,939,26,{bold:1}),txt('Streptavidin-PE',1269,934,26,{bold:1}),
 txt('SSC-A',50,221,26,{bold:1,rot:R}),txt('FSC-H',528,220,26,{bold:1,rot:R}),txt('Count',1030,218,26,{bold:1,rot:R}),
 txt('SSC-A',50,691,26,{bold:1,rot:R}),txt('FSC-H',528,690,26,{bold:1,rot:R}),txt('Count',1030,688,26,{bold:1,rot:R}),
 txt('Morphology',479,72,24.5,{align:'right'}),txt('Single Cells',958,72,24.5,{align:'right'}),
 txt('Morphology',480,546,24.5,{align:'right'}),txt('Single Cells',958,546,24.5,{align:'right'}),
 txt('Streptavidin-PE',1269,69,24.4,{align:'left'}),txt('MFI= 74.4',1269,98,24.4,{align:'left'}),
 txt('Streptavidin-PE',1269,543,24.4,{align:'left'}),txt('MFI= 4178',1269,573,24.4,{align:'left'})
];
const chart=echarts.init(document.getElementById('c'),null,{renderer:'canvas'});
chart.setOption({animation:false,backgroundColor:'#fff',tooltip:{show:false},grid:grids,xAxis:xAxes,yAxis:yAxes,series,graphic});
</script></body></html>
